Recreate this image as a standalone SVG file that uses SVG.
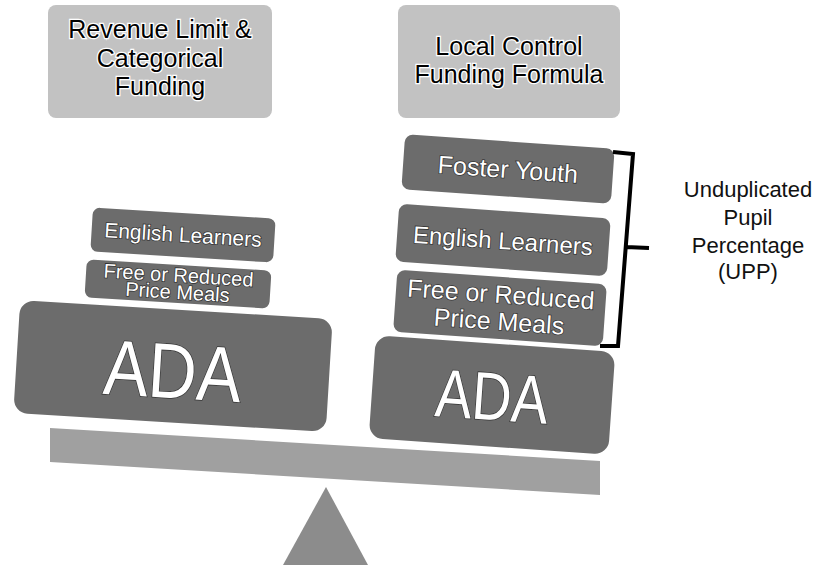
<svg xmlns="http://www.w3.org/2000/svg" width="826" height="565" viewBox="0 0 826 565">
<style>
.light{fill:#c2c2c2;}
.dark{fill:#6c6c6c;}
.ttl{font-family:"Liberation Sans",Arial,sans-serif;font-size:25px;fill:#000;stroke:#fff;stroke-width:2.5px;paint-order:stroke;text-anchor:middle;}
.lbl{font-family:"Liberation Sans",Arial,sans-serif;fill:#fff;stroke:#333;stroke-width:1.5px;paint-order:stroke;text-anchor:middle;}
.upp{font-family:"Liberation Sans",Arial,sans-serif;font-size:22px;fill:#111;text-anchor:middle;}
</style>
<g id="title-left">
<rect class="light" x="48" y="5" width="224" height="113" rx="8"/>
<text class="ttl" x="160" y="38">Revenue Limit &amp;</text>
<text class="ttl" x="160" y="67">Categorical</text>
<text class="ttl" x="160" y="95">Funding</text>
</g>
<g id="title-right">
<rect class="light" x="398" y="5" width="222" height="113" rx="8"/>
<text class="ttl" x="509" y="55">Local Control</text>
<text class="ttl" x="509" y="83">Funding Formula</text>
</g>
<g id="left-english" transform="rotate(3.5 183 235)">
<rect class="dark" x="91.5" y="213" width="183" height="44" rx="7"/>
<text class="lbl" x="183" y="242" font-size="21">English Learners</text>
</g>
<g id="left-frpm" transform="rotate(3.5 178 284)">
<rect class="dark" x="85.5" y="265" width="185" height="38" rx="7"/>
<text class="lbl" x="178" y="282" font-size="20">Free or Reduced</text>
<text class="lbl" x="178" y="299" font-size="20">Price Meals</text>
</g>
<g id="left-ada" transform="rotate(3.5 173 366)">
<rect class="dark" x="16.5" y="309.5" width="313" height="113" rx="14"/>
<text class="lbl" x="173" y="398" font-size="78" textLength="138" lengthAdjust="spacingAndGlyphs">ADA</text>
</g>
<g id="right-foster" transform="rotate(4 508 169)">
<rect class="dark" x="403" y="141.5" width="210" height="55" rx="8"/>
<text class="lbl" x="508" y="178" font-size="25">Foster Youth</text>
</g>
<g id="right-english" transform="rotate(4 503 240)">
<rect class="dark" x="397" y="211" width="212" height="58" rx="8"/>
<text class="lbl" x="503" y="249" font-size="24">English Learners</text>
</g>
<g id="right-frpm" transform="rotate(4 500 308)">
<rect class="dark" x="395" y="277" width="210" height="62" rx="8"/>
<text class="lbl" x="500" y="303" font-size="25">Free or Reduced</text>
<text class="lbl" x="500" y="330" font-size="25">Price Meals</text>
</g>
<g id="right-ada" transform="rotate(4 492 395)">
<rect class="dark" x="372" y="343.5" width="240" height="103" rx="14"/>
<text class="lbl" x="492" y="420" font-size="68" textLength="113" lengthAdjust="spacingAndGlyphs">ADA</text>
</g>
<g id="beam">
<polygon points="50,428 600,461 600,495 50,462" fill="#a0a0a0"/>
</g>
<g id="fulcrum">
<polygon points="326,487 368,565 283,565" fill="#8c8c8c"/>
</g>
<g id="connectors">
<path d="M613,152 L633,154 L618,346 L600,346 M626,247 L649,248" fill="none" stroke="#000" stroke-width="4" stroke-linejoin="miter"/>
</g>
<g id="upp-label">
<text class="upp" x="748" y="197">Unduplicated</text>
<text class="upp" x="748" y="225">Pupil</text>
<text class="upp" x="748" y="253">Percentage</text>
<text class="upp" x="748" y="279">(UPP)</text>
</g>
</svg>
